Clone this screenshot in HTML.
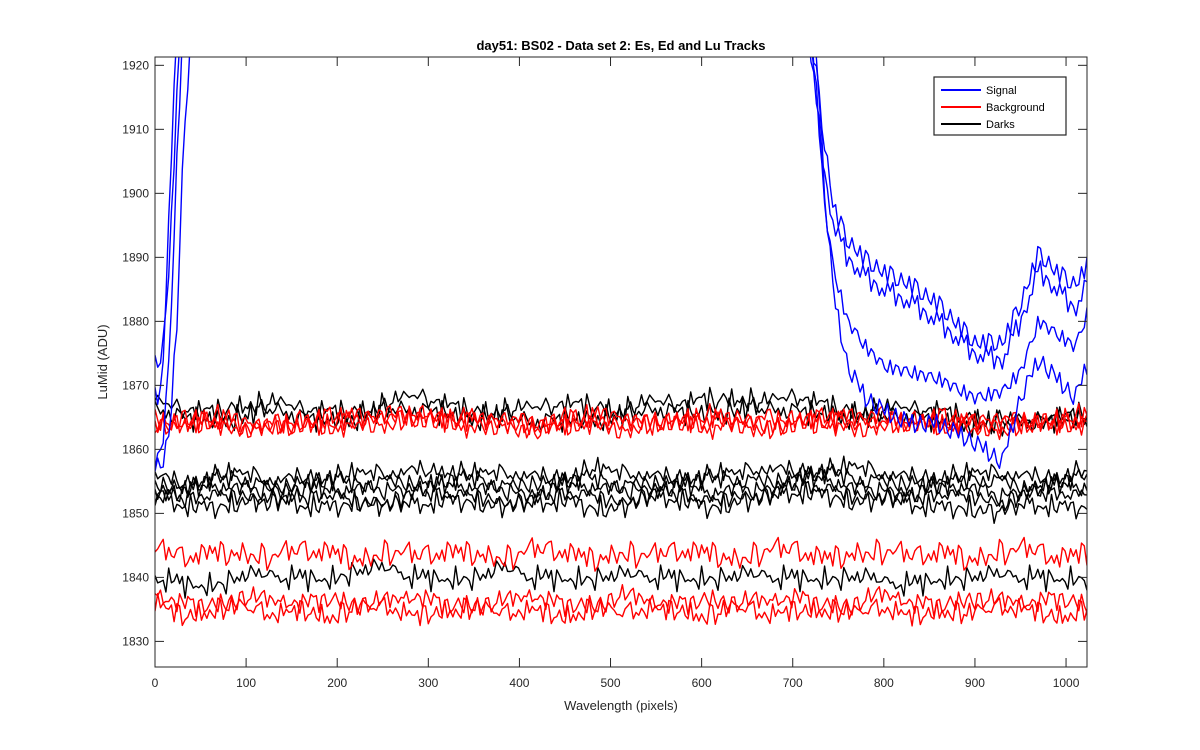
<!DOCTYPE html>
<html><head><meta charset="utf-8"><style>
body{margin:0;background:#fff;}
svg{display:block;font-family:"Liberation Sans",Arial,sans-serif;}
</style></head><body>
<svg id="chart" width="1200" height="750">
<rect x="0" y="0" width="1200" height="750" fill="#fff"/>
<rect x="155" y="57" width="932" height="610" fill="#fff"/>
<defs><clipPath id="clip"><rect x="155" y="57" width="932" height="610"/></clipPath></defs>
<g id="series" clip-path="url(#clip)"></g>
<g id="axes"></g>
<text x="621" y="50" text-anchor="middle" font-size="13" font-weight="bold" fill="#000">day51: BS02 - Data set 2: Es, Ed and Lu Tracks</text>
<text x="621" y="710" text-anchor="middle" font-size="13" fill="#262626">Wavelength (pixels)</text>
<text transform="translate(107,362) rotate(-90)" text-anchor="middle" font-size="13" fill="#262626">LuMid (ADU)</text>
<g>
<rect x="934" y="77" width="132" height="58" fill="#fff" stroke="#262626" stroke-width="1.2"/>
<line x1="941" y1="90" x2="981" y2="90" stroke="#0000ff" stroke-width="2"/>
<text x="986" y="94" font-size="11">Signal</text>
<line x1="941" y1="107" x2="981" y2="107" stroke="#ff0000" stroke-width="2"/>
<text x="986" y="111" font-size="11">Background</text>
<line x1="941" y1="124" x2="981" y2="124" stroke="#000" stroke-width="2"/>
<text x="986" y="128" font-size="11">Darks</text>
</g>
</svg>
<script>
const xTicks=[0,100,200,300,400,500,600,700,800,900,1000];
const yTicks=[1830,1840,1850,1860,1870,1880,1890,1900,1910,1920];
// flat series base levels sampled every 32 pixels (x=0..1024)
const redSeries=[
[1865,1864,1865,1864,1864,1865,1864,1865,1865,1866,1865,1864,1865,1864,1864,1865,1865,1864,1865,1865,1864,1865,1865,1864,1865,1864,1865,1864,1864,1865,1864,1865,1865],
[1864,1865,1864,1863,1864,1864,1865,1864,1866,1865,1864,1865,1864,1863,1865,1864,1864,1865,1864,1864,1865,1864,1864,1865,1864,1866,1864,1865,1863,1864,1865,1864,1864],
[1864,1863,1864,1863,1864,1863,1863,1864,1864,1865,1864,1863,1864,1864,1863,1864,1863,1864,1864,1863,1864,1863,1864,1864,1863,1864,1864,1863,1864,1863,1864,1863,1864],
[1844,1843,1844,1844,1843,1844,1844,1843,1844,1843,1844,1844,1843,1844,1844,1843,1844,1843,1844,1844,1843,1844,1844,1843,1844,1844,1843,1844,1843,1844,1844,1843,1844],
[1837,1836,1836,1837,1836,1836,1837,1836,1836,1837,1836,1836,1836,1837,1836,1836,1837,1836,1836,1837,1836,1836,1837,1836,1836,1837,1836,1836,1837,1836,1836,1837,1836],
[1836,1834,1835,1835,1834,1835,1834,1835,1835,1834,1835,1835,1834,1835,1834,1835,1834,1835,1835,1834,1835,1834,1835,1835,1834,1835,1834,1835,1834,1835,1835,1834,1835]
];
const blackSeries=[
[1867,1866,1866,1867,1867,1866,1866,1866,1867,1868,1867,1866,1866,1866,1867,1867,1866,1867,1867,1868,1868,1867,1868,1867,1866,1866,1866,1866,1865,1864,1864,1865,1866],
[1866,1865,1865,1865,1866,1865,1865,1865,1866,1866,1866,1865,1865,1864,1865,1865,1865,1866,1866,1866,1866,1866,1866,1866,1865,1865,1865,1865,1864,1864,1864,1865,1865],
[1856,1855,1856,1856,1855,1856,1856,1856,1856,1857,1857,1856,1856,1856,1856,1857,1856,1856,1856,1856,1856,1857,1857,1857,1857,1856,1856,1856,1856,1856,1856,1856,1857],
[1855,1854,1855,1855,1854,1855,1855,1854,1855,1855,1855,1855,1854,1855,1855,1855,1854,1855,1855,1855,1855,1855,1856,1856,1855,1855,1855,1854,1855,1855,1854,1855,1855],
[1854,1853,1854,1854,1854,1854,1853,1854,1854,1854,1854,1854,1854,1853,1854,1854,1854,1854,1854,1853,1854,1854,1855,1855,1854,1854,1853,1854,1854,1853,1854,1854,1854],
[1853,1852,1853,1853,1852,1852,1853,1852,1852,1853,1853,1853,1852,1852,1853,1853,1852,1853,1853,1852,1853,1853,1854,1854,1853,1853,1852,1853,1853,1852,1853,1853,1853],
[1852,1851,1851,1852,1852,1851,1851,1852,1851,1851,1852,1852,1851,1851,1852,1851,1851,1852,1852,1851,1852,1852,1853,1853,1852,1852,1851,1851,1851,1850,1851,1851,1851],
[1840,1839,1839,1840,1840,1840,1840,1841,1841,1840,1840,1840,1841,1840,1840,1840,1840,1840,1840,1840,1840,1840,1840,1840,1840,1839,1839,1840,1840,1840,1840,1840,1840]
];
const jitter=[0.8,-1.2,1.5,-0.4,0.2,-1.7,1.1,0.6,-0.9,1.9,-1.4,0.3,-0.6,1.3,-1.9,0.9,-0.2,1.6,-1.1,0.4,-0.8,1.2,-1.5,0.7,0.1,-1.3,1.8,-0.5,0.5,-1.6,1.0,-0.3,1.4,-1.0,0.0,-1.8,1.7,-0.7,0.6,-1.1,1.2,-0.1,-1.4,0.8,1.5];
// blue signal tracks: x positions and values
const blueX=[0,8,16,24,32,40,48,700,715,725,735,745,760,780,800,830,860,900,930,950,970,990,1010,1023];
const blueSeries=[
[1874,1875,1890,1915,1935,1940,1940,1940,1930,1920,1908,1898,1893,1890,1888,1886,1883,1877,1877,1883,1891,1888,1886,1889],
[1868,1870,1900,1925,1940,1940,1940,1940,1928,1915,1903,1895,1890,1887,1885,1883,1880,1875,1874,1880,1888,1885,1882,1886],
[1858,1860,1875,1905,1930,1940,1940,1940,1930,1918,1898,1888,1880,1876,1873,1872,1871,1868,1869,1872,1880,1878,1876,1881],
[1857,1858,1862,1880,1910,1925,1940,1940,1935,1925,1900,1884,1873,1868,1866,1864,1864,1861,1858,1868,1874,1871,1868,1873]
];
const X0=0,X1=1023,Y0=1826,Y1=1921.3,PL=155,PR=1087,PT=57,PB=667;
const sx=v=>PL+(v-X0)/(X1-X0)*(PR-PL);
const sy=v=>PB-(v-Y0)/(Y1-Y0)*(PB-PT);
const NS="http://www.w3.org/2000/svg";
const g=document.getElementById('series'),ax=document.getElementById('axes');
function interp(arr,x){const p=x/32,i=Math.min(Math.floor(p),arr.length-2),f=p-i;return arr[i]*(1-f)+arr[i+1]*f;}
function flatPath(arr,k){let d='';for(let x=0,j=0;x<=1023;x+=3,j++){const n=0.75*(jitter[(j*7+k*11)%jitter.length]+0.6*jitter[(j*3+k*5+2)%jitter.length]);d+=(j?'L':'M')+sx(x).toFixed(1)+','+sy(interp(arr,x)+n).toFixed(1);}return d;}
function addPath(d,c,name){const p=document.createElementNS(NS,'path');p.setAttribute('d',d);p.setAttribute('fill','none');p.setAttribute('stroke',c);p.setAttribute('stroke-width','1.4');p.setAttribute('stroke-linejoin','round');


g.appendChild(p);}
blackSeries.forEach((a,k)=>addPath(flatPath(a,k+20),'#000','darks-line-'+(k+1)));
redSeries.forEach((a,k)=>addPath(flatPath(a,k),'#ff0000','background-line-'+(k+1)));
blueSeries.forEach((a,k)=>{let d='';let j=0;for(let x=0;x<=1023;x+=3,j++){let i=0;while(i<blueX.length-2&&blueX[i+1]<x)i++;const f=Math.max(0,Math.min(1,(x-blueX[i])/(blueX[i+1]-blueX[i])));const v=a[i]*(1-f)+a[i+1]*f+0.9*jitter[(j*5+k*9)%jitter.length];d+=(j?'L':'M')+sx(x).toFixed(1)+','+sy(v).toFixed(1);}addPath(d,'#0000ff','signal-line-'+(k+1));});
function el(t,attrs,name,txt){const e=document.createElementNS(NS,t);for(const k in attrs)e.setAttribute(k,attrs[k]);if(txt!==undefined)e.textContent=txt;


ax.appendChild(e);return e;}
el('rect',{x:PL,y:PT,width:PR-PL,height:PB-PT,fill:'none',stroke:'#262626','stroke-width':1},'axes-box');
xTicks.forEach(t=>{const x=sx(t);el('line',{x1:x,y1:PB,x2:x,y2:PB-9,stroke:'#262626'},'x-tick');el('line',{x1:x,y1:PT,x2:x,y2:PT+9,stroke:'#262626'},'x-tick-top');el('text',{x:x,y:PB+20,'text-anchor':'middle','font-size':12,fill:'#262626'},'x-tick-label',t);});
yTicks.forEach(t=>{const y=sy(t);el('line',{x1:PL,y1:y,x2:PL+9,y2:y,stroke:'#262626'},'y-tick');el('line',{x1:PR,y1:y,x2:PR-9,y2:y,stroke:'#262626'},'y-tick-right');el('text',{x:PL-6,y:y+4,'text-anchor':'end','font-size':12,fill:'#262626'},'y-tick-label',t);});
</script>
</body></html>
